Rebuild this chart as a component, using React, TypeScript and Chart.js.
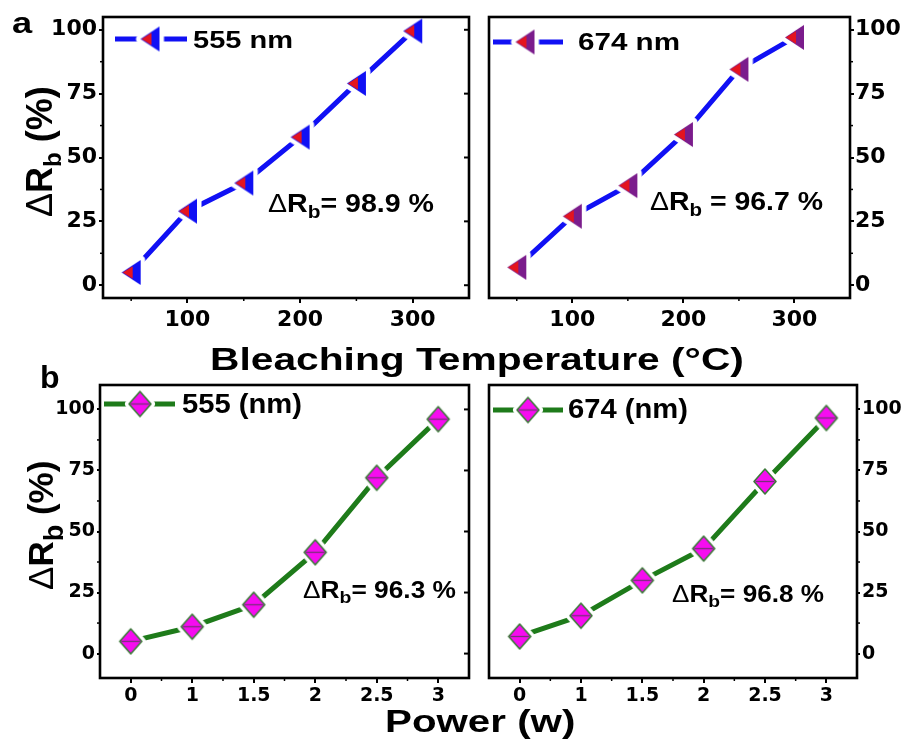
import { useEffect, useRef } from 'react';
import { Chart, registerables } from 'chart.js';
Chart.register(...registerables);

// ---------- data ----------
const tempX = [50, 100, 150, 200, 250, 300];
const temp555 = [5, 29, 40, 58, 79, 99.5];
const temp674 = [7, 27, 39, 59, 84.5, 97];
const powerLabels = ['0', '1', '1.5', '2', '2.5', '3'];
const power555 = [5, 11, 20, 41.5, 72, 96];
const power674 = [7, 15.5, 30, 43, 70.5, 96.5];
const tempTicks = [100, 200, 300];
const tempMinor = [50, 150, 250];
const yTicks = [0, 25, 50, 75, 100];
const yMinor = [12.5, 37.5, 62.5, 87.5];

type Part = { text: string; size: number; weight: number; dy?: number };

interface PanelCfg {
  id: string;
  frame: [number, number, number, number];
  side: 'left' | 'right';
  kind: 'temp' | 'power';
  values: number[];
  color: string;
  marker: 'tri555' | 'tri674' | 'diamond';
  yMin: number;
  yMax: number;
  tickSize: number;
  yTickLen: number;
  yTickPad: number;
  xTickPad: number;
  legend: { x1: number; x2: number; mx: number; y: number; tx: number; tx2: number; base: number; size: number; text: string };
  annot: { x1: number; x2: number; base: number; size: number; rest: string };
}

const BLUE = '#1010f4';
const GREEN = '#1e7b1a';

const PANELS: PanelCfg[] = [
  {
    id: 'a1', frame: [103, 17, 472, 298], side: 'left', kind: 'temp', values: temp555, color: BLUE, marker: 'tri555',
    yMin: -5, yMax: 105, tickSize: 22, yTickLen: 4, yTickPad: 2, xTickPad: 4,
    legend: { x1: 115, x2: 187, mx: 150, y: 39, tx: 193, tx2: 293, base: 48, size: 23, text: '555 nm' },
    annot: { x1: 268, x2: 434, base: 212, size: 26, rest: '= 98.9 %' },
  },
  {
    id: 'a2', frame: [486, 17, 850, 298], side: 'right', kind: 'temp', values: temp674, color: BLUE, marker: 'tri674',
    yMin: -5, yMax: 105, tickSize: 22, yTickLen: 4, yTickPad: 1, xTickPad: 4,
    legend: { x1: 493, x2: 563, mx: 525, y: 42, tx: 578, tx2: 680, base: 50, size: 23, text: '674 nm' },
    annot: { x1: 650, x2: 823, base: 210, size: 25, rest: ' = 96.7 %' },
  },
  {
    id: 'b1', frame: [100, 385, 472, 678], side: 'left', kind: 'power', values: power555, color: GREEN, marker: 'diamond',
    yMin: -10, yMax: 110, tickSize: 19, yTickLen: 3, yTickPad: 2, xTickPad: 2,
    legend: { x1: 104, x2: 175, mx: 140, y: 404, tx: 182, tx2: 302, base: 413, size: 27, text: '555 (nm)' },
    annot: { x1: 303, x2: 456, base: 598, size: 23, rest: '= 96.3 %' },
  },
  {
    id: 'b2', frame: [486, 385, 857, 678], side: 'right', kind: 'power', values: power674, color: GREEN, marker: 'diamond',
    yMin: -10, yMax: 110, tickSize: 19, yTickLen: 3, yTickPad: 2, xTickPad: 2,
    legend: { x1: 493, x2: 563, mx: 528, y: 410, tx: 568, tx2: 688, base: 418, size: 27, text: '674 (nm)' },
    annot: { x1: 672, x2: 824, base: 602, size: 23, rest: '= 96.8 %' },
  },
];

const OUT = 62;
const IN = 12;
const TOP = 17;
const XAX = 46;

function geom(p: PanelCfg) {
  const [L, T, R, B] = p.frame;
  const ox = p.side === 'left' ? L - OUT : L - IN;
  const oy = T - TOP;
  return { ox, oy, w: R - L + OUT + IN, h: B - T + TOP + XAX };
}

function makeTriangle(leftColor: string, rightColor: string) {
  const w = 19, h = 25, halo = 6;
  const c = document.createElement('canvas');
  c.width = w + 2 * halo;
  c.height = h + 2 * halo;
  const ctx = c.getContext('2d')!;
  const x0 = halo, y0 = halo;
  const path = () => {
    ctx.beginPath();
    ctx.moveTo(x0, y0 + h / 2);
    ctx.lineTo(x0 + w, y0);
    ctx.lineTo(x0 + w, y0 + h);
    ctx.closePath();
  };
  path();
  ctx.strokeStyle = '#fff';
  ctx.lineJoin = 'round';
  ctx.lineWidth = 9;
  ctx.stroke();
  ctx.fillStyle = '#fff';
  ctx.fill();
  path();
  ctx.fillStyle = rightColor;
  ctx.fill();
  ctx.save();
  ctx.beginPath();
  ctx.rect(0, 0, x0 + w * 0.58, c.height);
  ctx.clip();
  ctx.beginPath();
  ctx.moveTo(x0 + 1, y0 + h / 2);
  ctx.lineTo(x0 + w, y0 + 1.2);
  ctx.lineTo(x0 + w, y0 + h - 1.2);
  ctx.closePath();
  ctx.fillStyle = leftColor;
  ctx.fill();
  ctx.restore();
  return c;
}

function makeDiamond() {
  const w = 22, h = 25, halo = 5;
  const c = document.createElement('canvas');
  c.width = w + 2 * halo;
  c.height = h + 2 * halo;
  const ctx = c.getContext('2d')!;
  const x0 = halo, y0 = halo, cx = x0 + w / 2, cy = y0 + h / 2;
  const path = () => {
    ctx.beginPath();
    ctx.moveTo(cx, y0);
    ctx.lineTo(x0 + w, cy);
    ctx.lineTo(cx, y0 + h);
    ctx.lineTo(x0, cy);
    ctx.closePath();
  };
  path();
  ctx.strokeStyle = '#fff';
  ctx.lineJoin = 'round';
  ctx.lineWidth = 8;
  ctx.stroke();
  ctx.fillStyle = '#fff';
  ctx.fill();
  path();
  ctx.fillStyle = '#f60cf0';
  ctx.fill();
  ctx.strokeStyle = '#3d7a3a';
  ctx.lineWidth = 1.6;
  ctx.stroke();
  ctx.beginPath();
  ctx.moveTo(x0 + 1.5, cy);
  ctx.lineTo(x0 + w - 1.5, cy);
  ctx.strokeStyle = '#7a2f7a';
  ctx.lineWidth = 1.3;
  ctx.stroke();
  return c;
}

function drawRich(ctx: CanvasRenderingContext2D, parts: Part[], x: number, base: number, target: number) {
  ctx.save();
  const fontOf = (p: Part) => `${p.weight} ${p.size}px "Liberation Sans", Arial, sans-serif`;
  let total = 0;
  for (const p of parts) {
    ctx.font = fontOf(p);
    total += ctx.measureText(p.text).width;
  }
  const sx = target / total;
  ctx.translate(x, base);
  ctx.scale(sx, 1);
  ctx.fillStyle = '#000';
  ctx.textBaseline = 'alphabetic';
  ctx.textAlign = 'left';
  let cx = 0;
  for (const p of parts) {
    ctx.font = fontOf(p);
    ctx.fillText(p.text, cx, p.dy || 0);
    cx += ctx.measureText(p.text).width;
  }
  ctx.restore();
}

function createChart(canvas: HTMLCanvasElement, p: PanelCfg, markers: Record<string, HTMLCanvasElement>) {
  const g = geom(p);
  const isTemp = p.kind === 'temp';
  const marker = markers[p.marker];
  const tickFont = { family: '"DejaVu Sans", sans-serif', weight: 'bold' as const, size: p.tickSize };
  const data = isTemp ? tempX.map((x, i) => ({ x, y: p.values[i] })) : p.values;

  const xScale: any = isTemp
    ? {
        type: 'linear',
        min: 25,
        max: 350,
        afterBuildTicks: (s: any) => {
          s.ticks = tempTicks.map((v) => ({ value: v }));
        },
      }
    : { type: 'category', offset: true };
  Object.assign(xScale, {
    position: 'bottom',
    border: { display: false },
    grid: { display: true, drawOnChartArea: false, drawTicks: true, tickLength: 5, color: '#000', lineWidth: 2 },
    ticks: { color: '#000', font: tickFont, padding: p.xTickPad, maxRotation: 0, autoSkip: false },
    afterFit: (s: any) => {
      s.height = XAX;
    },
  });

  const deco = {
    id: 'deco_' + p.id,
    afterDatasetsDraw(chart: any) {
      const ctx: CanvasRenderingContext2D = chart.ctx;
      const a = chart.chartArea;
      const xs = chart.scales.x;
      const ys = chart.scales.y;
      const line = (x1: number, y1: number, x2: number, y2: number) => {
        ctx.beginPath();
        ctx.moveTo(x1, y1);
        ctx.lineTo(x2, y2);
        ctx.stroke();
      };
      ctx.save();
      ctx.strokeStyle = '#000';
      ctx.lineWidth = 1.5;
      const minorX = isTemp
        ? tempMinor.map((v) => xs.getPixelForValue(v))
        : powerLabels.slice(1).map((_, i) => (xs.getPixelForValue(i) + xs.getPixelForValue(i + 1)) / 2);
      minorX.forEach((px) => line(px, a.bottom, px, a.bottom + 3));
      yMinor.forEach((v) => {
        const py = ys.getPixelForValue(v);
        if (p.side === 'left') line(a.left - 3, py, a.left, py);
        else line(a.right, py, a.right + 3, py);
      });
      ctx.lineWidth = 2;
      if (p.side === 'left') {
        yTicks.forEach((v) => {
          const py = ys.getPixelForValue(v);
          line(a.right - 5, py, a.right, py);
        });
      }
      ctx.lineWidth = 2.6;
      ctx.strokeRect(a.left, a.top, a.right - a.left, a.bottom - a.top);

      const lg = p.legend;
      ctx.strokeStyle = p.color;
      ctx.lineWidth = 5;
      line(lg.x1 - g.ox, lg.y - g.oy, lg.x2 - g.ox, lg.y - g.oy);
      ctx.drawImage(marker, lg.mx - g.ox - marker.width / 2, lg.y - g.oy - marker.height / 2);
      drawRich(ctx, [{ text: lg.text, size: lg.size, weight: 700 }], lg.tx - g.ox, lg.base - g.oy, lg.tx2 - lg.tx);

      const an = p.annot;
      drawRich(
        ctx,
        [
          { text: 'Δ', size: an.size, weight: 400 },
          { text: 'R', size: an.size, weight: 700 },
          { text: 'b', size: Math.round(an.size * 0.72), weight: 700, dy: an.size * 0.22 },
          { text: an.rest, size: an.size, weight: 700 },
        ],
        an.x1 - g.ox,
        an.base - g.oy,
        an.x2 - an.x1,
      );
      ctx.restore();
    },
  };

  return new Chart(canvas, {
    type: 'line',
    data: {
      labels: isTemp ? undefined : powerLabels,
      datasets: [
        {
          data: data as any,
          borderColor: p.color,
          backgroundColor: p.color,
          borderWidth: 5,
          tension: 0,
          pointStyle: marker as any,
          pointRadius: 10,
          pointHoverRadius: 10,
          clip: false as any,
        },
      ],
    },
    options: {
      responsive: false,
      animation: false,
      events: [],
      layout: {
        padding: { left: p.side === 'left' ? 0 : IN, right: p.side === 'left' ? IN : 0, top: TOP, bottom: 0 },
      },
      plugins: { legend: { display: false }, tooltip: { enabled: false } },
      scales: {
        x: xScale,
        y: {
          type: 'linear',
          position: p.side,
          min: p.yMin,
          max: p.yMax,
          afterBuildTicks: (s: any) => {
            s.ticks = yTicks.map((v) => ({ value: v }));
          },
          afterFit: (s: any) => {
            s.width = OUT;
          },
          border: { display: false },
          grid: { display: true, drawOnChartArea: false, drawTicks: true, tickLength: p.yTickLen, color: '#000', lineWidth: 2 },
          ticks: { color: '#000', font: tickFont, padding: p.yTickPad },
        },
      },
    },
    plugins: [deco],
  });
}

const titleFont = '"Liberation Sans", Arial, sans-serif';

export default function App() {
  const refs = useRef<(HTMLCanvasElement | null)[]>([]);
  useEffect(() => {
    const markers = {
      tri555: makeTriangle('#e4141e', BLUE),
      tri674: makeTriangle('#e4141e', '#7b1c8c'),
      diamond: makeDiamond(),
    };
    const charts = PANELS.map((p, i) => createChart(refs.current[i]!, p, markers));
    return () => charts.forEach((c) => c.destroy());
  }, []);

  const yTitle = (left: number, bottom: number, size: number, sub: number, shift: number) => (
    <div
      style={{
        position: 'absolute',
        left,
        top: bottom,
        transformOrigin: '0 0',
        transform: 'rotate(-90deg)',
        whiteSpace: 'nowrap',
        fontFamily: titleFont,
        fontWeight: 700,
        fontSize: size,
        lineHeight: 'normal',
        color: '#000',
      }}
    >
      <span style={{ fontWeight: 400 }}>Δ</span>R
      <span style={{ position: 'relative', top: shift, fontSize: sub }}>b</span> (%)
    </div>
  );

  return (
    <div style={{ position: 'absolute', left: 0, top: 0, width: 905, height: 754, background: '#fff', overflow: 'hidden' }}>
      {PANELS.map((p, i) => {
        const g = geom(p);
        return (
          <canvas
            key={p.id}
            ref={(el) => {
              refs.current[i] = el;
            }}
            width={g.w}
            height={g.h}
            style={{ position: 'absolute', left: g.ox, top: g.oy, width: g.w, height: g.h }}
          />
        );
      })}
      {yTitle(19, 217, 36, 24, 9)}
      {yTitle(21, 590, 35, 27, 10)}
      <div
        style={{
          position: 'absolute', left: 210, top: 342, fontFamily: titleFont, fontWeight: 700, fontSize: 31,
          lineHeight: 'normal', whiteSpace: 'nowrap', transform: 'scaleX(1.314)', transformOrigin: '0 0', color: '#000',
        }}
      >
        Bleaching Temperature (°C)
      </div>
      <div
        style={{
          position: 'absolute', left: 385, top: 704, fontFamily: titleFont, fontWeight: 700, fontSize: 31,
          lineHeight: 'normal', whiteSpace: 'nowrap', transform: 'scaleX(1.3)', transformOrigin: '0 0', color: '#000',
        }}
      >
        Power (w)
      </div>
      <div
        style={{
          position: 'absolute', left: 12, top: 7, fontFamily: titleFont, fontWeight: 700, fontSize: 29,
          lineHeight: 'normal', transform: 'scaleX(1.25)', transformOrigin: '0 0', color: '#000',
        }}
      >
        a
      </div>
      <div
        style={{
          position: 'absolute', left: 40, top: 359, fontFamily: titleFont, fontWeight: 700, fontSize: 32,
          lineHeight: 'normal', color: '#000',
        }}
      >
        b
      </div>
    </div>
  );
}
